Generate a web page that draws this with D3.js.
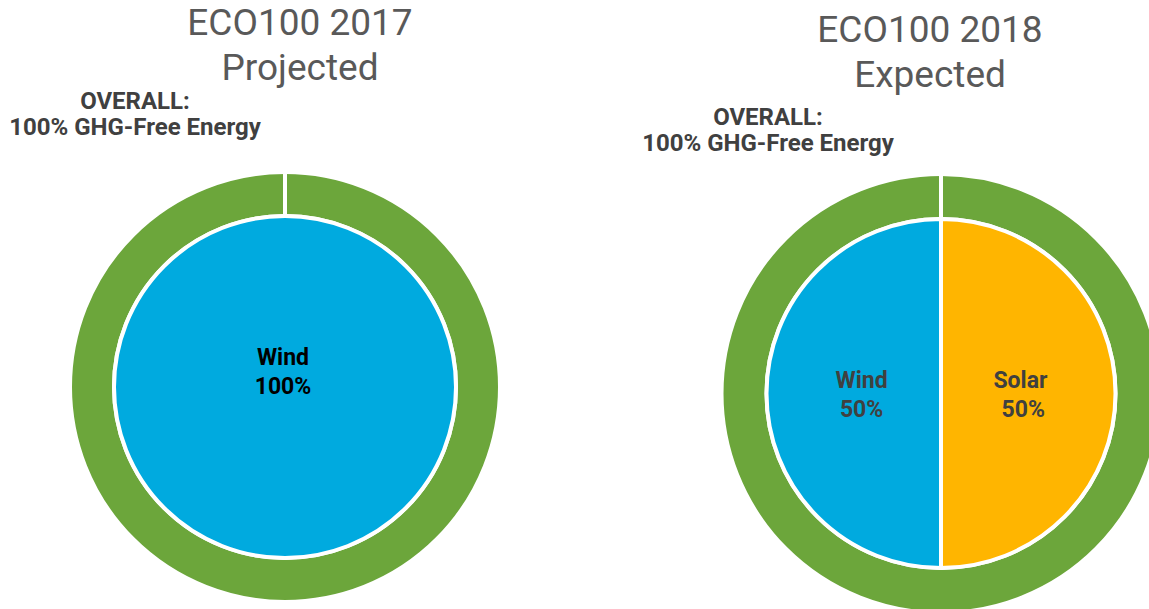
<!DOCTYPE html>
<html>
<head>
<meta charset="utf-8">
<script src="https://cdn.jsdelivr.net/npm/d3@7"></script>
<style>
  html, body { margin: 0; padding: 0; background: #ffffff; }
  svg { display: block; font-family: Roboto, "Noto Sans", sans-serif; }
</style>
</head>
<body>
<svg id="chart" width="1149" height="609"></svg>
<script>
// ---- data ----
const chartTitles = ["ECO100 2017", "ECO100 2018"];
const chartSubtitles = ["Projected", "Expected"];
const overallLine1 = ["OVERALL:", "OVERALL:"];
const overallLine2 = ["100% GHG-Free Energy", "100% GHG-Free Energy"];
const overallValues = [100, 100];
const sources2017 = ["Wind"];
const values2017 = [100];
const labels2017 = ["100%"];
const sources2018 = ["Wind", "Solar"];
const values2018 = [50, 50];
const labels2018 = ["50%", " 50%"];

// ---- styles ----
const colors = { Wind: "#00aadf", Solar: "#ffb500", overall: "#6ca63b" };
const layout = [
  { cx: 285, cy: 387, outer: 215, inner: 171, pie: 171, titleX: 300, titleY: 35, overallX: 135, overallY: 109, labelColor: "#000000" },
  { cx: 941, cy: 393.5, outer: 219.5, inner: 174.5, pie: 174.5, titleX: 930, titleY: 42, overallX: 768, overallY: 125, labelColor: "#404040" }
];

const svg = d3.select("#chart");
const pie = d3.pie().sort(null).startAngle(Math.PI).endAngle(3 * Math.PI);
const overallPie = d3.pie().sort(null);

const datasets = [
  sources2017.map((s, i) => ({ source: s, value: values2017[i], label: labels2017[i] })),
  sources2018.map((s, i) => ({ source: s, value: values2018[i], label: labels2018[i] }))
];

datasets.forEach((data, k) => {
  const L = layout[k];
  const g = svg.append("g").attr("transform", `translate(${L.cx},${L.cy})`);

  // outer ring
  const ringArc = d3.arc().innerRadius(L.inner).outerRadius(L.outer);
  const ringData = overallPie([overallValues[k]]);
  g.selectAll("path.ring")
    .data(ringData)
    .join("path")
    .attr("class", "ring")
    .attr("d", ringArc)
    .attr("fill", colors.overall)
    .attr("stroke", "#ffffff")
    .attr("stroke-width", 4);
  // slice boundary of the ring (start edge)
  g.selectAll("line.ringEdge")
    .data(ringData)
    .join("line")
    .attr("class", "ringEdge")
    .attr("x1", a => Math.sin(a.startAngle) * (L.inner - 2))
    .attr("y1", a => -Math.cos(a.startAngle) * (L.inner - 2))
    .attr("x2", a => Math.sin(a.startAngle) * (L.outer + 2))
    .attr("y2", a => -Math.cos(a.startAngle) * (L.outer + 2))
    .attr("stroke", "#ffffff")
    .attr("stroke-width", 4);

  // inner pie
  const pieArc = d3.arc().innerRadius(0).outerRadius(L.pie);
  const arcs = pie(data.map(d => d.value)).map((a, i) => Object.assign(a, { d: data[i] }));
  g.selectAll("path.slice")
    .data(arcs)
    .join("path")
    .attr("class", "slice")
    .attr("d", pieArc)
    .attr("fill", a => colors[a.d.source])
    .attr("stroke", "#ffffff")
    .attr("stroke-width", 4);

  // slice labels
  const labelArc = d3.arc().innerRadius(0).outerRadius(L.pie * 0.91);
  arcs.forEach(a => {
    const full = (a.endAngle - a.startAngle) >= 2 * Math.PI - 1e-6;
    const [lx, ly] = full ? [-2, -16] : labelArc.centroid(a);
    const t = g.append("text")
      .attr("x", lx)
      .attr("y", ly)
      .attr("text-anchor", "middle")
      .attr("font-size", 23)
      .attr("font-weight", 700)
      .attr("fill", L.labelColor)
      .style("white-space", "pre");
    t.append("tspan").attr("x", lx).attr("dy", -6).text(a.d.source);
    t.append("tspan").attr("x", lx).attr("dy", 29).text(a.d.label);
  });

  // titles
  const title = svg.append("text")
    .attr("x", L.titleX)
    .attr("y", L.titleY)
    .attr("text-anchor", "middle")
    .attr("font-size", 37)
    .attr("fill", "#595959");
  title.append("tspan").attr("x", L.titleX).text(chartTitles[k]);
  title.append("tspan").attr("x", L.titleX).attr("dy", 45).text(chartSubtitles[k]);

  // overall annotation
  const ov = svg.append("text")
    .attr("x", L.overallX)
    .attr("y", L.overallY)
    .attr("text-anchor", "middle")
    .attr("font-size", 24)
    .attr("font-weight", 700)
    .attr("fill", "#404040");
  ov.append("tspan").attr("x", L.overallX).text(overallLine1[k]);
  ov.append("tspan").attr("x", L.overallX).attr("dy", 26).text(overallLine2[k]);
});
</script>
</body>
</html>
